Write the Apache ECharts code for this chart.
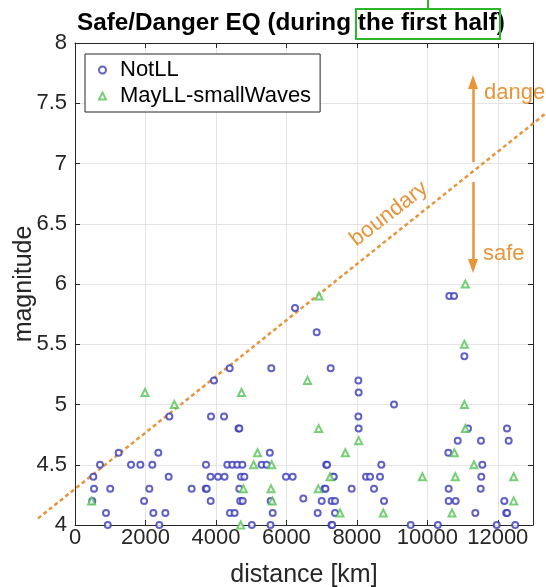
<!DOCTYPE html>
<html><head><meta charset="utf-8">
<script src="https://cdn.jsdelivr.net/npm/echarts@6/dist/echarts.min.js"></script>
<style>html,body{margin:0;padding:0;background:#fff}#c{width:546px;height:587px}</style>
</head><body><div id="c"></div>
<script>
// ---- data ----
const seriesNames = ['NotLL', 'MayLL-smallWaves'];
const xTicks = [0, 2000, 4000, 6000, 8000, 10000, 12000];
const yTicks = [4, 4.5, 5, 5.5, 6, 6.5, 7, 7.5, 8];

const notLLDistance = [
  930, 2393, 5020, 5550, 7280, 7300, 9528, 10300, 11970, 12495,
  880, 2224, 2565, 4400, 4530, 5611, 6888, 7380, 11363, 12240, 12265,
  490, 1960, 3851, 4690, 4760, 5554, 6481, 7002, 7285, 7380, 8771, 10606, 10805, 12186,
  540, 1000, 2110, 3311, 3710, 3740, 4664, 7080, 7110, 7853, 8487, 10606, 11515,
  520, 2659, 3846, 4059, 4244, 4712, 4806, 5989, 6178, 7320, 7345, 8260, 8374, 8657, 11533,
  710, 1590, 1855, 2195, 3718, 4324, 4466, 4608, 4750, 5298, 5440, 7130, 7155, 8695, 11562,
  1240, 2365, 5530, 10597,
  10863, 11524, 12310,
  4640, 4665, 8052, 11155, 12262,
  2678, 3860, 4230, 8043,
  9055, 8052, 3945, 8043,
  4390, 5572, 7257, 11052, 6860, 6245, 10625, 10758
];
const notLLMagnitude = [
  4.0, 4.0, 4.0, 4.0, 4.0, 4.0, 4.0, 4.0, 4.0, 4.0,
  4.1, 4.1, 4.1, 4.1, 4.1, 4.1, 4.1, 4.1, 4.1, 4.1, 4.1,
  4.2, 4.2, 4.2, 4.2, 4.2, 4.2, 4.22, 4.2, 4.2, 4.2, 4.2, 4.2, 4.2, 4.2,
  4.3, 4.3, 4.3, 4.3, 4.3, 4.3, 4.3, 4.3, 4.3, 4.3, 4.3, 4.3, 4.3,
  4.4, 4.4, 4.4, 4.4, 4.4, 4.4, 4.4, 4.4, 4.4, 4.4, 4.4, 4.4, 4.4, 4.4, 4.4,
  4.5, 4.5, 4.5, 4.5, 4.5, 4.5, 4.5, 4.5, 4.5, 4.5, 4.5, 4.5, 4.5, 4.5, 4.5,
  4.6, 4.6, 4.6, 4.6,
  4.7, 4.7, 4.7,
  4.8, 4.8, 4.8, 4.8, 4.8,
  4.9, 4.9, 4.9, 4.9,
  5.0, 5.1, 5.2, 5.2,
  5.3, 5.3, 5.3, 5.4, 5.6, 5.8, 5.9, 5.9
];
const mayLLDistance = [
  4702,
  7522, 8750, 10701,
  470, 5600, 12452,
  4778, 5564, 6906,
  7238, 9859, 10796, 12452,
  5070, 5583, 11325,
  5180, 7673, 10768,
  8052,
  6917, 11080,
  2819, 11052,
  1987, 4726,
  6600,
  11052,
  6926,
  11080
];
const mayLLMagnitude = [
  4.0,
  4.1, 4.1, 4.1,
  4.2, 4.2, 4.2,
  4.3, 4.3, 4.3,
  4.4, 4.4, 4.4, 4.4,
  4.5, 4.5, 4.5,
  4.6, 4.6, 4.6,
  4.7,
  4.8, 4.8,
  5.0, 5.0,
  5.1, 5.1,
  5.2,
  5.5,
  5.9,
  6.0
];
const boundaryDistance = [-1050, 13380];
const boundaryMagnitude = [4.055, 7.42];

// ---- chart ----
const FONT = '"Liberation Sans", Arial, Helvetica, sans-serif';
const AX = '#262626';
const ORANGE = '#e8953a';
const BLUE = '#3a3ab8';
const GREEN = '#55c455';
const W = 546, H = 587;

// main plot box
const G = {left: 75, top: 43, width: 458, height: 482};
const X_MIN = 0, X_MAX = 13000, Y_MIN = 4, Y_MAX = 8;
// an overlay grid that covers the whole canvas with the same scale,
// so the boundary annotation can run past the axes box as in the original
const pxPerX = G.width / (X_MAX - X_MIN);
const pxPerY = G.height / (Y_MAX - Y_MIN);
const OX_MIN = X_MIN - G.left / pxPerX;
const OX_MAX = OX_MIN + W / pxPerX;
const OY_MAX = Y_MAX + G.top / pxPerY;
const OY_MIN = OY_MAX - H / pxPerY;

const zip = (xs, ys) => xs.map((x, i) => [x, ys[i]]);

const chart = echarts.init(document.getElementById('c'), null, {renderer: 'canvas'});

const xCommon = {
  type: 'value', min: X_MIN, max: X_MAX, interval: 2000, gridIndex: 0,
  axisLine: {show: true, onZero: false, lineStyle: {color: AX, width: 1}},
  axisTick: {show: true, inside: true, length: 5, lineStyle: {color: AX}},
};
const yCommon = {
  type: 'value', min: Y_MIN, max: Y_MAX, interval: 0.5, gridIndex: 0,
  axisLine: {show: true, onZero: false, lineStyle: {color: AX, width: 1}},
  axisTick: {show: true, inside: true, length: 5, lineStyle: {color: AX}},
};
const hidden = {
  show: false, axisLine: {show: false}, axisTick: {show: false},
  axisLabel: {show: false}, splitLine: {show: false}
};

chart.setOption({
  animation: false,
  backgroundColor: '#fff',
  textStyle: {fontFamily: FONT},
  title: {
    text: 'Safe/Danger EQ (during the first half)',
    left: 77, top: 11, padding: 0,
    textStyle: {fontSize: 24.3, fontWeight: 'bold', color: '#000', fontFamily: FONT}
  },
  grid: [
    {left: G.left, top: G.top, width: G.width, height: G.height, containLabel: false, outerBoundsMode: 'none'},
    {left: 0, top: 0, width: W, height: H, containLabel: false, outerBoundsMode: 'none', show: false}
  ],
  xAxis: [
    Object.assign({}, xCommon, {
      position: 'bottom',
      name: 'distance [km]', nameLocation: 'middle', nameGap: 38, nameMoveOverlap: false,
      nameTextStyle: {fontSize: 25, color: AX, fontFamily: FONT},
      axisLabel: {
        show: true, fontSize: 22, color: AX, margin: 2, fontFamily: FONT,
        showMaxLabel: false,
        formatter: v => (xTicks.indexOf(v) >= 0 ? String(v) : '')
      },
      splitLine: {show: true, lineStyle: {color: '#e4e4e4', width: 1}}
    }),
    Object.assign({}, xCommon, {
      position: 'top', axisLabel: {show: false}, splitLine: {show: false}
    }),
    Object.assign({type: 'value', gridIndex: 1, min: OX_MIN, max: OX_MAX}, hidden)
  ],
  yAxis: [
    Object.assign({}, yCommon, {
      position: 'left',
      name: 'magnitude', nameLocation: 'middle', nameGap: 38, nameMoveOverlap: false,
      nameTextStyle: {fontSize: 25, color: AX, fontFamily: FONT},
      axisLabel: {
        show: true, fontSize: 22, color: AX, margin: 8, fontFamily: FONT,
        formatter: v => (yTicks.indexOf(v) >= 0 ? String(v) : '')
      },
      splitLine: {show: true, lineStyle: {color: '#e4e4e4', width: 1}}
    }),
    Object.assign({}, yCommon, {
      position: 'right', axisLabel: {show: false}, splitLine: {show: false}
    }),
    Object.assign({type: 'value', gridIndex: 1, min: OY_MIN, max: OY_MAX}, hidden)
  ],
  legend: {
    data: seriesNames,
    orient: 'vertical', left: 85, top: 54,
    padding: [5, 9, 5, 13], itemGap: 4,
    itemWidth: 7, itemHeight: 7,
    borderColor: AX, borderWidth: 1, backgroundColor: '#fff',
    textStyle: {fontSize: 22, color: '#000', fontFamily: FONT, padding: [0, 0, 0, 9]}
  },
  series: [
    {
      name: 'boundary', type: 'line', xAxisIndex: 2, yAxisIndex: 2,
      data: zip(boundaryDistance, boundaryMagnitude),
      showSymbol: false, symbol: 'none', silent: true,
      lineStyle: {color: ORANGE, width: 2.5, type: [4, 3]},
      z: 1,
      markLine: {
        silent: true, symbol: ['none', 'triangle'], symbolSize: [10, 14],
        lineStyle: {color: ORANGE, width: 2.5, type: 'solid'},
        label: {show: false},
        data: [
          [{coord: [11297, 7.012]}, {coord: [11297, 7.676]}],
          [{coord: [11297, 6.846]}, {coord: [11297, 6.149]}]
        ]
      }
    },
    {
      name: seriesNames[0], type: 'scatter', xAxisIndex: 0, yAxisIndex: 0,
      data: zip(notLLDistance, notLLMagnitude),
      symbol: 'emptyCircle', symbolSize: 6, clip: false,
      itemStyle: {color: BLUE, borderColor: BLUE, borderWidth: 1.2},
      z: 3
    },
    {
      name: seriesNames[1], type: 'scatter', xAxisIndex: 0, yAxisIndex: 0,
      data: zip(mayLLDistance, mayLLMagnitude),
      symbol: 'emptyTriangle', symbolSize: 7, clip: false,
      itemStyle: {color: GREEN, borderColor: GREEN, borderWidth: 1.2},
      z: 4
    }
  ],
  graphic: [
    {type: 'rect', shape: {x: 356, y: 9, width: 144, height: 30},
     style: {fill: 'none', stroke: '#2db52d', lineWidth: 2}, z: 100},
    {type: 'line', shape: {x1: 428, y1: 0, x2: 428, y2: 9},
     style: {stroke: '#2db52d', lineWidth: 2}, z: 100},
    {type: 'text', x: 389, y: 214, rotation: 0.656,
     style: {text: 'boundary', fill: ORANGE, font: '22px ' + FONT, align: 'center', verticalAlign: 'middle'}, z: 100},
    {type: 'text', x: 484, y: 93,
     style: {text: 'danger', fill: ORANGE, font: '22px ' + FONT, align: 'left', verticalAlign: 'middle'}, z: 100},
    {type: 'text', x: 483, y: 254,
     style: {text: 'safe', fill: ORANGE, font: '22px ' + FONT, align: 'left', verticalAlign: 'middle'}, z: 100}
  ]
});
</script>
</body></html>
